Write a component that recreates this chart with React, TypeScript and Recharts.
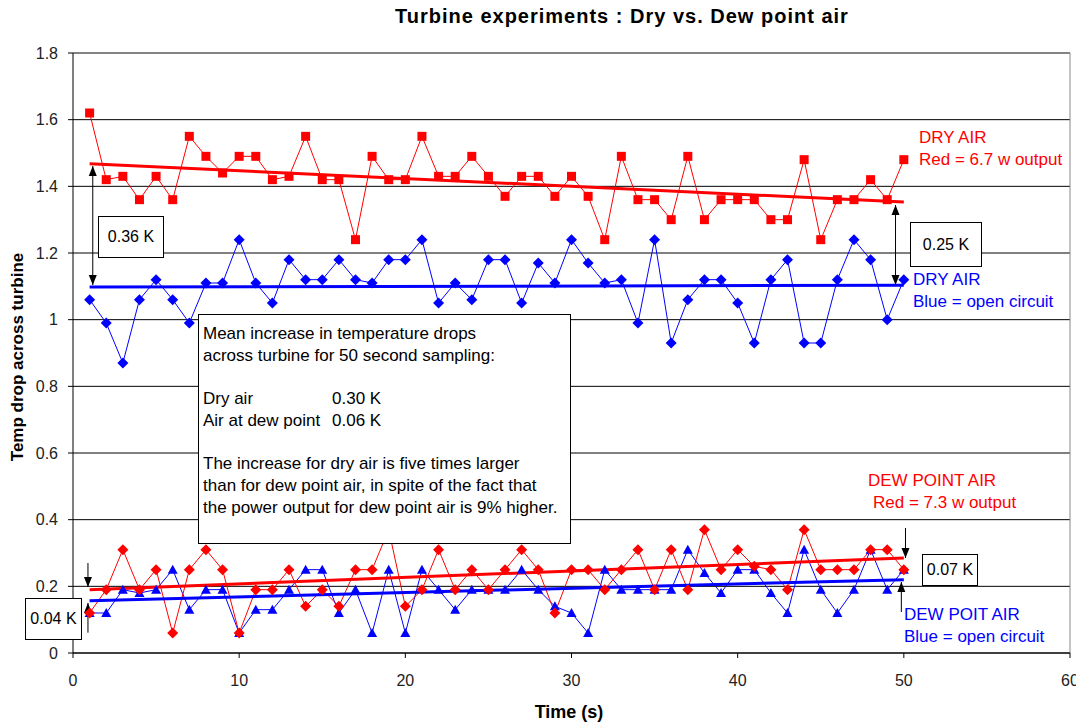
import React from 'react';
import { LineChart, Line, XAxis, YAxis, CartesianGrid, ReferenceLine } from 'recharts';

// ---- data ----
const seconds = [1,2,3,4,5,6,7,8,9,10,11,12,13,14,15,16,17,18,19,20,21,22,23,24,25,26,27,28,29,30,31,32,33,34,35,36,37,38,39,40,41,42,43,44,45,46,47,48,49,50];

const dryRed = [1.62,1.42,1.43,1.36,1.43,1.36,1.55,1.49,1.44,1.49,1.49,1.42,1.43,1.55,1.42,1.42,1.24,1.49,1.42,1.42,1.55,1.43,1.43,1.49,1.43,1.37,1.43,1.43,1.37,1.43,1.37,1.24,1.49,1.36,1.36,1.30,1.49,1.30,1.36,1.36,1.36,1.30,1.30,1.48,1.24,1.36,1.36,1.42,1.36,1.48];
const dryBlue = [1.06,0.99,0.87,1.06,1.12,1.06,0.99,1.11,1.11,1.24,1.11,1.05,1.18,1.12,1.12,1.18,1.12,1.11,1.18,1.18,1.24,1.05,1.11,1.06,1.18,1.18,1.05,1.17,1.11,1.24,1.17,1.11,1.12,0.99,1.24,0.93,1.06,1.12,1.12,1.05,0.93,1.12,1.18,0.93,0.93,1.12,1.24,1.18,1.00,1.12];
const dewRed = [0.12,0.19,0.31,0.19,0.25,0.06,0.25,0.31,0.25,0.06,0.19,0.19,0.25,0.14,0.19,0.14,0.25,0.25,0.37,0.14,0.19,0.31,0.19,0.25,0.19,0.25,0.31,0.25,0.12,0.25,0.25,0.19,0.25,0.31,0.19,0.31,0.19,0.37,0.25,0.31,0.26,0.25,0.19,0.37,0.25,0.25,0.25,0.31,0.31,0.25];
const dewBlue = [0.12,0.12,0.19,0.18,0.19,0.25,0.13,0.19,0.19,0.06,0.13,0.13,0.19,0.25,0.25,0.12,0.19,0.06,0.25,0.06,0.25,0.19,0.13,0.19,0.19,0.19,0.25,0.19,0.14,0.12,0.06,0.25,0.19,0.19,0.19,0.19,0.31,0.24,0.18,0.25,0.25,0.18,0.12,0.31,0.19,0.12,0.19,0.31,0.19,0.25];

// trend lines (start / end)
const trendX = [1, 50];
const dryRedTrend = [1.468, 1.353];
const dryBlueTrend = [1.098, 1.103];
const dewRedTrend = [0.19, 0.285];
const dewBlueTrend = [0.157, 0.22];

const xTicks = [0, 10, 20, 30, 40, 50, 60];
const yTicks = [0, 0.2, 0.4, 0.6, 0.8, 1, 1.2, 1.4, 1.6, 1.8];

const rows = seconds.map((t, i) => ({ t, dryRed: dryRed[i], dryBlue: dryBlue[i], dewRed: dewRed[i], dewBlue: dewBlue[i] }));
const trend = (vals: number[]) => trendX.map((t, i) => ({ t, v: vals[i] }));

// annotation arrows in data coordinates
const arrows = [
  { x1: 1.19, y1: 1.461, x2: 1.19, y2: 1.104, both: true },
  { x1: 49.5, y1: 1.344, x2: 49.5, y2: 1.104, both: true },
  { x1: 50.1, y1: 0.375, x2: 50.1, y2: 0.285, both: false },
  { x1: 49.85, y1: 0.123, x2: 49.85, y2: 0.213, both: false },
  { x1: 0.9, y1: 0.27, x2: 0.9, y2: 0.198, both: false },
  { x1: 0.9, y1: 0.061, x2: 0.9, y2: 0.15, both: false },
];

const RED = '#ff0000';
const BLUE = '#0000ff';
const FONT = '"Liberation Sans", Arial, sans-serif';

const squareDot = (color: string) => (p: any) =>
  p.cx == null ? <g key={`s${p.index}`} /> : <rect key={`s${p.index}`} x={p.cx - 4.5} y={p.cy - 4.5} width={9} height={9} fill={color} />;
const diamondDot = (color: string) => (p: any) =>
  p.cx == null ? <g key={`d${p.index}`} /> : (
    <polygon key={`d${p.index}`} points={`${p.cx},${p.cy - 5.5} ${p.cx + 5.5},${p.cy} ${p.cx},${p.cy + 5.5} ${p.cx - 5.5},${p.cy}`} fill={color} />
  );
const triangleDot = (color: string) => (p: any) =>
  p.cx == null ? <g key={`t${p.index}`} /> : (
    <polygon key={`t${p.index}`} points={`${p.cx},${p.cy - 5} ${p.cx + 5},${p.cy + 4} ${p.cx - 5},${p.cy + 4}`} fill={color} />
  );

const arrowShape = (both: boolean) => (p: any) => {
  const { x1, y1, x2, y2 } = p;
  if (x1 == null) return <g />;
  const head = (tx: number, ty: number, fx: number, fy: number) => {
    const dx = tx - fx, dy = ty - fy;
    const len = Math.sqrt(dx * dx + dy * dy) || 1;
    const ux = dx / len, uy = dy / len;
    const L = 10, W = 4;
    const bx = tx - ux * L, by = ty - uy * L;
    return `${tx},${ty} ${bx - uy * W},${by + ux * W} ${bx + uy * W},${by - ux * W}`;
  };
  return (
    <g>
      <line x1={x1} y1={y1} x2={x2} y2={y2} stroke="#000" strokeWidth={1} />
      <polygon points={head(x2, y2, x1, y1)} fill="#000" />
      {both && <polygon points={head(x1, y1, x2, y2)} fill="#000" />}
    </g>
  );
};

const abs = (left: number, top: number, extra: React.CSSProperties = {}): React.CSSProperties => ({
  position: 'absolute', left, top, whiteSpace: 'nowrap', fontFamily: FONT, fontSize: 17, lineHeight: '18px', ...extra,
});

const boxStyle = (left: number, top: number, width: number, height: number): React.CSSProperties => ({
  position: 'absolute', left, top, width, height, boxSizing: 'border-box', border: '1px solid #000', background: '#fff',
  display: 'flex', alignItems: 'center', justifyContent: 'center', fontFamily: FONT, fontSize: 16, color: '#000', whiteSpace: 'nowrap',
});

export default function App() {
  return (
    <div style={{ position: 'relative', width: 1076, height: 714, fontFamily: FONT }}>
      <LineChart width={1076} height={714} data={rows} margin={{ top: 45, right: 14, bottom: 0, left: 0 }}>
        <CartesianGrid horizontal vertical={false} stroke="#000" strokeOpacity={1} />
        <XAxis type="number" dataKey="t" domain={[0, 60]} ticks={xTicks} height={69} tickSize={5} tickMargin={17}
          axisLine={{ stroke: '#000' }} tickLine={{ stroke: '#000' }} tick={{ fill: '#222', fontSize: 16, fontFamily: FONT }} allowDataOverflow />
        <YAxis type="number" domain={[0, 1.8]} ticks={yTicks} width={65} tickSize={5} tickMargin={10}
          axisLine={{ stroke: '#000' }} tickLine={{ stroke: '#000' }} tick={{ fill: '#222', fontSize: 16, fontFamily: FONT }} allowDataOverflow />
        <ReferenceLine y={1.8} stroke="#888" />
        <ReferenceLine x={60} stroke="#888" />
        <Line type="linear" dataKey="dewBlue" stroke={BLUE} strokeWidth={1} dot={triangleDot(BLUE)} activeDot={false} isAnimationActive={false} />
        <Line type="linear" dataKey="dewRed" stroke={RED} strokeWidth={1} dot={diamondDot(RED)} activeDot={false} isAnimationActive={false} />
        <Line type="linear" dataKey="dryBlue" stroke={BLUE} strokeWidth={1} dot={diamondDot(BLUE)} activeDot={false} isAnimationActive={false} />
        <Line type="linear" dataKey="dryRed" stroke={RED} strokeWidth={1} dot={squareDot(RED)} activeDot={false} isAnimationActive={false} />
        <Line data={trend(dewBlueTrend)} type="linear" dataKey="v" stroke={BLUE} strokeWidth={3} dot={false} activeDot={false} isAnimationActive={false} />
        <Line data={trend(dewRedTrend)} type="linear" dataKey="v" stroke={RED} strokeWidth={3} dot={false} activeDot={false} isAnimationActive={false} />
        <Line data={trend(dryBlueTrend)} type="linear" dataKey="v" stroke={BLUE} strokeWidth={3} dot={false} activeDot={false} isAnimationActive={false} />
        <Line data={trend(dryRedTrend)} type="linear" dataKey="v" stroke={RED} strokeWidth={3} dot={false} activeDot={false} isAnimationActive={false} />
        {arrows.map((a, i) => (
          <ReferenceLine key={i} segment={[{ x: a.x1, y: a.y1 }, { x: a.x2, y: a.y2 }]} ifOverflow="visible" shape={arrowShape(a.both)} />
        ))}
      </LineChart>

      {/* title & axis labels */}
      <div style={abs(387, -3, { fontWeight: 'bold', fontSize: 20, lineHeight: '22px', letterSpacing: 1 })}>
        Turbine experiments : Dry vs. Dew point air
      </div>
      <div style={abs(10, 349, { transform: 'translate(-50%, -50%) rotate(-90deg)', fontWeight: 'bold', fontSize: 17 })}>
        Temp drop across turbine
      </div>
      <div style={abs(561, 695, { transform: 'translateX(-50%)', fontWeight: 'bold', fontSize: 18 })}>Time (s)</div>

      {/* series labels */}
      <div style={abs(911, 121, { color: RED })}>DRY AIR</div>
      <div style={abs(911, 143, { color: RED })}>Red = 6.7 w output</div>
      <div style={abs(905, 263, { color: BLUE })}>DRY AIR</div>
      <div style={abs(905, 285, { color: BLUE })}>Blue = open circuit</div>
      <div style={abs(860, 464, { color: RED })}>DEW POINT AIR</div>
      <div style={abs(865, 486, { color: RED })}>Red = 7.3 w output</div>
      <div style={abs(896, 598, { color: BLUE })}>DEW POIT AIR</div>
      <div style={abs(896, 620, { color: BLUE })}>Blue = open circuit</div>

      {/* difference boxes */}
      <div style={boxStyle(90, 208, 66, 42)}>0.36 K</div>
      <div style={boxStyle(902, 214, 72, 45)}>0.25 K</div>
      <div style={boxStyle(914, 546, 56, 32)}>0.07 K</div>
      <div style={boxStyle(17, 590, 57, 42)}>0.04 K</div>

      {/* note box */}
      <div style={{ position: 'absolute', left: 190, top: 306, width: 373, height: 230, boxSizing: 'border-box', border: '1px solid #000',
        background: '#fff', padding: '8px 0 0 4px', fontFamily: FONT, fontSize: 17, lineHeight: '21.7px', color: '#000', whiteSpace: 'nowrap' }}>
        <div>Mean increase in temperature drops</div>
        <div>across turbine for 50 second sampling:</div>
        <div>&nbsp;</div>
        <div><span style={{ display: 'inline-block', width: 129 }}>Dry air</span>0.30 K</div>
        <div><span style={{ display: 'inline-block', width: 129 }}>Air at dew point</span>0.06 K</div>
        <div>&nbsp;</div>
        <div>The increase for dry air is five times larger</div>
        <div>than for dew point air, in spite of the fact that</div>
        <div>the power output for dew point air is 9% higher.</div>
      </div>
    </div>
  );
}
